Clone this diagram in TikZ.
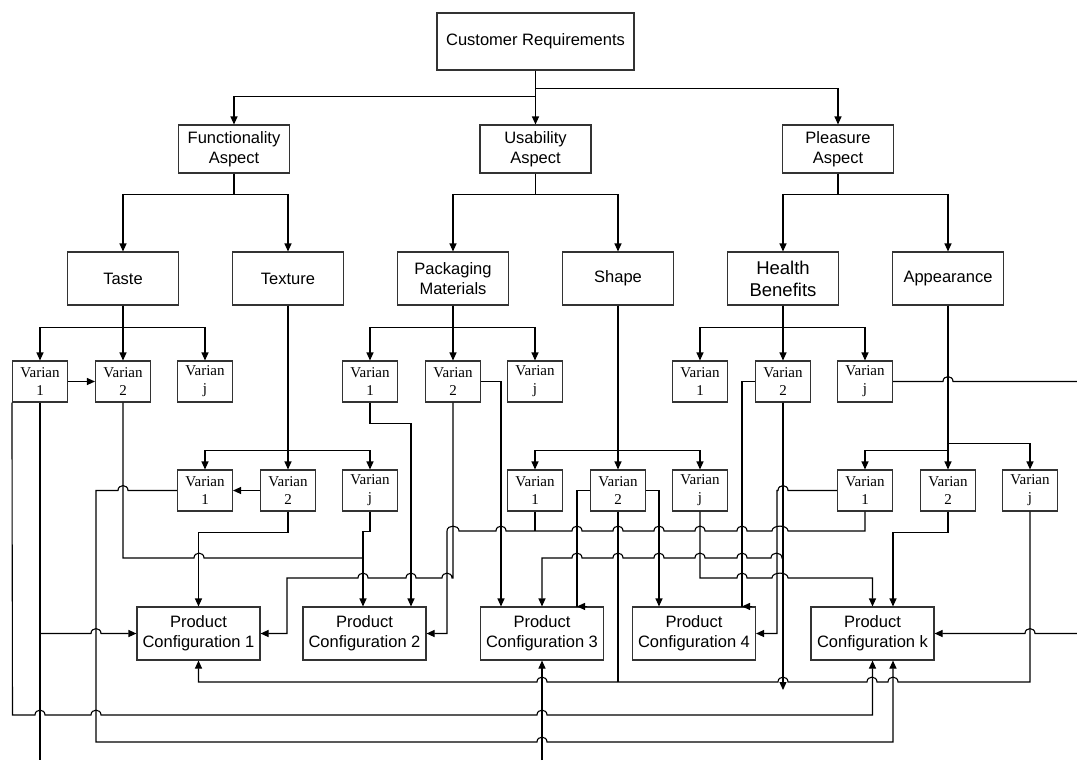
\documentclass[tikz,border=0pt]{standalone}
\usepackage{fontspec}
\setmainfont{Liberation Sans}
\newfontfamily\varfont{Liberation Serif}
\usetikzlibrary{arrows.meta}

% line jump over a crossing wire: from x=#1 to x=#2 at height #3
\newcommand\hopover[3]{-- (#1,#3) .. controls (#1,#3-6.5) and (#2,#3-6.5) .. (#2,#3)}

\tikzset{
  box/.style={draw=black!80, line width=1.1pt, fill=white, align=center, inner sep=0pt,
    font=\fontsize{16.5}{20}\selectfont},
  aspect/.style={box, minimum width=111pt, minimum height=48pt},
  attr/.style={box, minimum width=111pt, minimum height=53pt},
  varbox/.style={box, minimum width=55pt, minimum height=41pt,
    font=\varfont\fontsize{15}{18}\selectfont},
  config/.style={box, minimum width=123pt, minimum height=53pt},
  wire/.style={line width=1.1pt},
  arr/.style={wire, -{Triangle[length=8pt,width=7pt]}},
}

\begin{document}
\begin{tikzpicture}[x=1pt,y=-1pt]
  \useasboundingbox (0,0) rectangle (1077,761);

  % tree
  \node[box, minimum width=197pt, minimum height=57pt] (cr) at (535.5,41.5) {Customer Requirements};
  \node[aspect] (fa) at (234,149) {Functionality\\Aspect};
  \node[aspect] (ua) at (535.5,149) {Usability\\Aspect};
  \node[aspect] (pa) at (838,149) {Pleasure\\Aspect};
  \node[attr] (taste) at (123,278.5) {Taste};
  \node[attr] (texture) at (288,278.5) {Texture};
  \node[attr] (pack) at (453,278.5) {Packaging\\Materials};
  \node[attr] (shape) at (618,278.5) {Shape};
  \node[attr, font=\fontsize{18.5}{22}\selectfont] (health) at (783,278.5) {Health\\Benefits};
  \node[attr] (app) at (948,278.5) {Appearance};

  \foreach \n/\x/\y/\idx in {tv1/40/381.5/1, tv2/123/381.5/2, tvj/205/381.5/j,
      pv1/370/381.5/1, pv2/453/381.5/2, pvj/535/381.5/j,
      hv1/700/381.5/1, hv2/783/381.5/2, hvj/865/381.5/j,
      xv1/205/490.5/1, xv2/288/490.5/2, xvj/370/490.5/j,
      sv1/535/490.5/1, sv2/618/490.5/2, svj/700/490.5/j,
      av1/865/490.5/1, av2/948/490.5/2, avj/1030/490.5/j}
    \node[varbox] (\n) at (\x,\y) {Varian\\\idx};

  \foreach \n/\x/\idx in {pc1/198.5/1, pc2/364.5/2, pc3/542/3, pc4/694/4, pck/872.5/k}
    \node[config] (\n) at (\x,633.5) {Product\\Configuration \idx};

  \coordinate (tend) at (40,760);
  \coordinate (pend) at (542,760);
  \coordinate (hend) at (783,690);
  \coordinate (hvjend) at (1077,381.5);
  \coordinate (rend) at (1077,633.5);

  \draw[arr] (cr.south) -- (ua.north);
  \draw[arr] (cr.south) -- ++(0,18) -| (pa.north);
  \draw[arr] (cr.south) -- ++(0,26) -| (fa.north);
  \foreach \a/\l/\r in {fa/taste/texture, ua/pack/shape, pa/health/app} {
    \draw[arr] (\a.south) -- ++(0,21) -| (\l.north);
    \draw[arr] (\a.south) -- ++(0,21) -| (\r.north);
  }
  \foreach \p/\g in {taste/t, pack/p, health/h} {
    \draw[arr] (\p.south) -- (\g v2.north);
    \draw[arr] (\p.south) -- ++(0,22) -| (\g v1.north);
    \draw[arr] (\p.south) -- ++(0,22) -| (\g vj.north);
  }
  \foreach \p/\g in {texture/x, shape/s} {
    \draw[arr] (\p.south) -- (\g v2.north);
    \draw[arr] (\p.south) -- ++(0,145) -| (\g v1.north);
    \draw[arr] (\p.south) -- ++(0,145) -| (\g vj.north);
  }
  \draw[arr] (app.south) -- (av2.north);
  \draw[arr] (app.south) -- ++(0,145) -| (av1.north);
  \draw[arr] (app.south) -- ++(0,138) -| (avj.north);

  % taste variants
  \draw[arr] (tv1.east) -- (tv2.west);
  \draw[arr] (tv1.south west) -- (12.5,715) \hopover{35}{45}{715} \hopover{91}{101}{715}
    \hopover{537}{547}{715} -| (pck.south);
  \draw[wire] (tv1.south) -- (tend);
  \draw[arr] (tv1.south |- pc1.west) \hopover{91}{101}{633.5} -- (pc1.west);
  \draw[wire] (tv2.south) -- (123,558) \hopover{194}{204}{558} -- (363,558);

  % texture variants
  \draw[arr] (xv2.west) -- (xv1.east);
  \draw[arr] (xv2.south) -- ++(0,21) -| (pc1.north);
  \draw[arr] (xv1.west) \hopover{128}{118}{490.5} -- (96,490.5) -- (96,742)
    \hopover{537}{547}{742} -| ([xshift=20.5pt]pck.south);
  \draw[arr] (xvj.south) -- ++(0,20) -| ([xshift=-1.5pt]pc2.north);

  % packaging variants
  \draw[arr] (pv1.south) -- ++(0,21) -| ([xshift=46.5pt]pc2.north);
  \draw[arr] (pv2.south) -- (453,578) \hopover{452}{442}{578} \hopover{416}{406}{578}
    \hopover{368}{358}{578} -- (287,578) |- (pc1.east);
  \draw[arr] (pv2.east) -| ([xshift=-41pt]pc3.north);

  % shape variants
  \draw[wire] (sv1.south) -- (535,531);
  \draw[arr] (sv2.west) -| ([xshift=35pt]pc3.north) -- ++(10,0) -- ++(-10,0);
  \draw[arr] (sv2.east) -| ([xshift=-35pt]pc4.north);
  \draw[wire] (sv2.south) -- (618,682);
  \draw[arr] (svj.south) -- (700,578) \hopover{737}{747}{578} \hopover{772}{788}{578} -| (pck.north);

  % health variants
  \draw[arr] (hv2.west) -| ([xshift=48pt]pc4.north) -- ++(10,0) -- ++(-10,0);
  \draw[arr] (hv2.south) -- (hend);
  \draw[arr] (hv2.south) -- (783,558) \hopover{782}{771}{558} \hopover{747}{737}{558}
    \hopover{705}{695}{558} \hopover{664}{654}{558} \hopover{623}{613}{558}
    \hopover{582}{572}{558} -| (pc3.north);
  \draw[wire] (hvj.east) \hopover{943}{953}{381.5} -- (hvjend);

  % appearance variants
  \draw[arr] (av1.south) -- (865,531) \hopover{788}{772}{531} \hopover{747}{737}{531}
    \hopover{705}{695}{531} \hopover{664}{654}{531} \hopover{623}{613}{531}
    \hopover{582}{572}{531} \hopover{506}{496}{531} \hopover{459}{447}{531} |- (pc2.east);
  \draw[arr] (av1.west) \hopover{788}{778}{490.5} -- (777,490.5) |- (pc4.east);
  \draw[arr] (av2.south) -- ++(0,21) -| ([xshift=20.5pt]pck.north);
  \draw[arr] (avj.south) -- (1030,682) \hopover{898}{888}{682} \hopover{877}{867}{682}
    \hopover{788}{778}{682} \hopover{547}{537}{682} -| (pc1.south);
  \draw[arr] (rend) \hopover{1035}{1025}{633.5} -- (pck.east);
  \draw[arr] (pend) -- (pc3.south);
\end{tikzpicture}
\end{document}
